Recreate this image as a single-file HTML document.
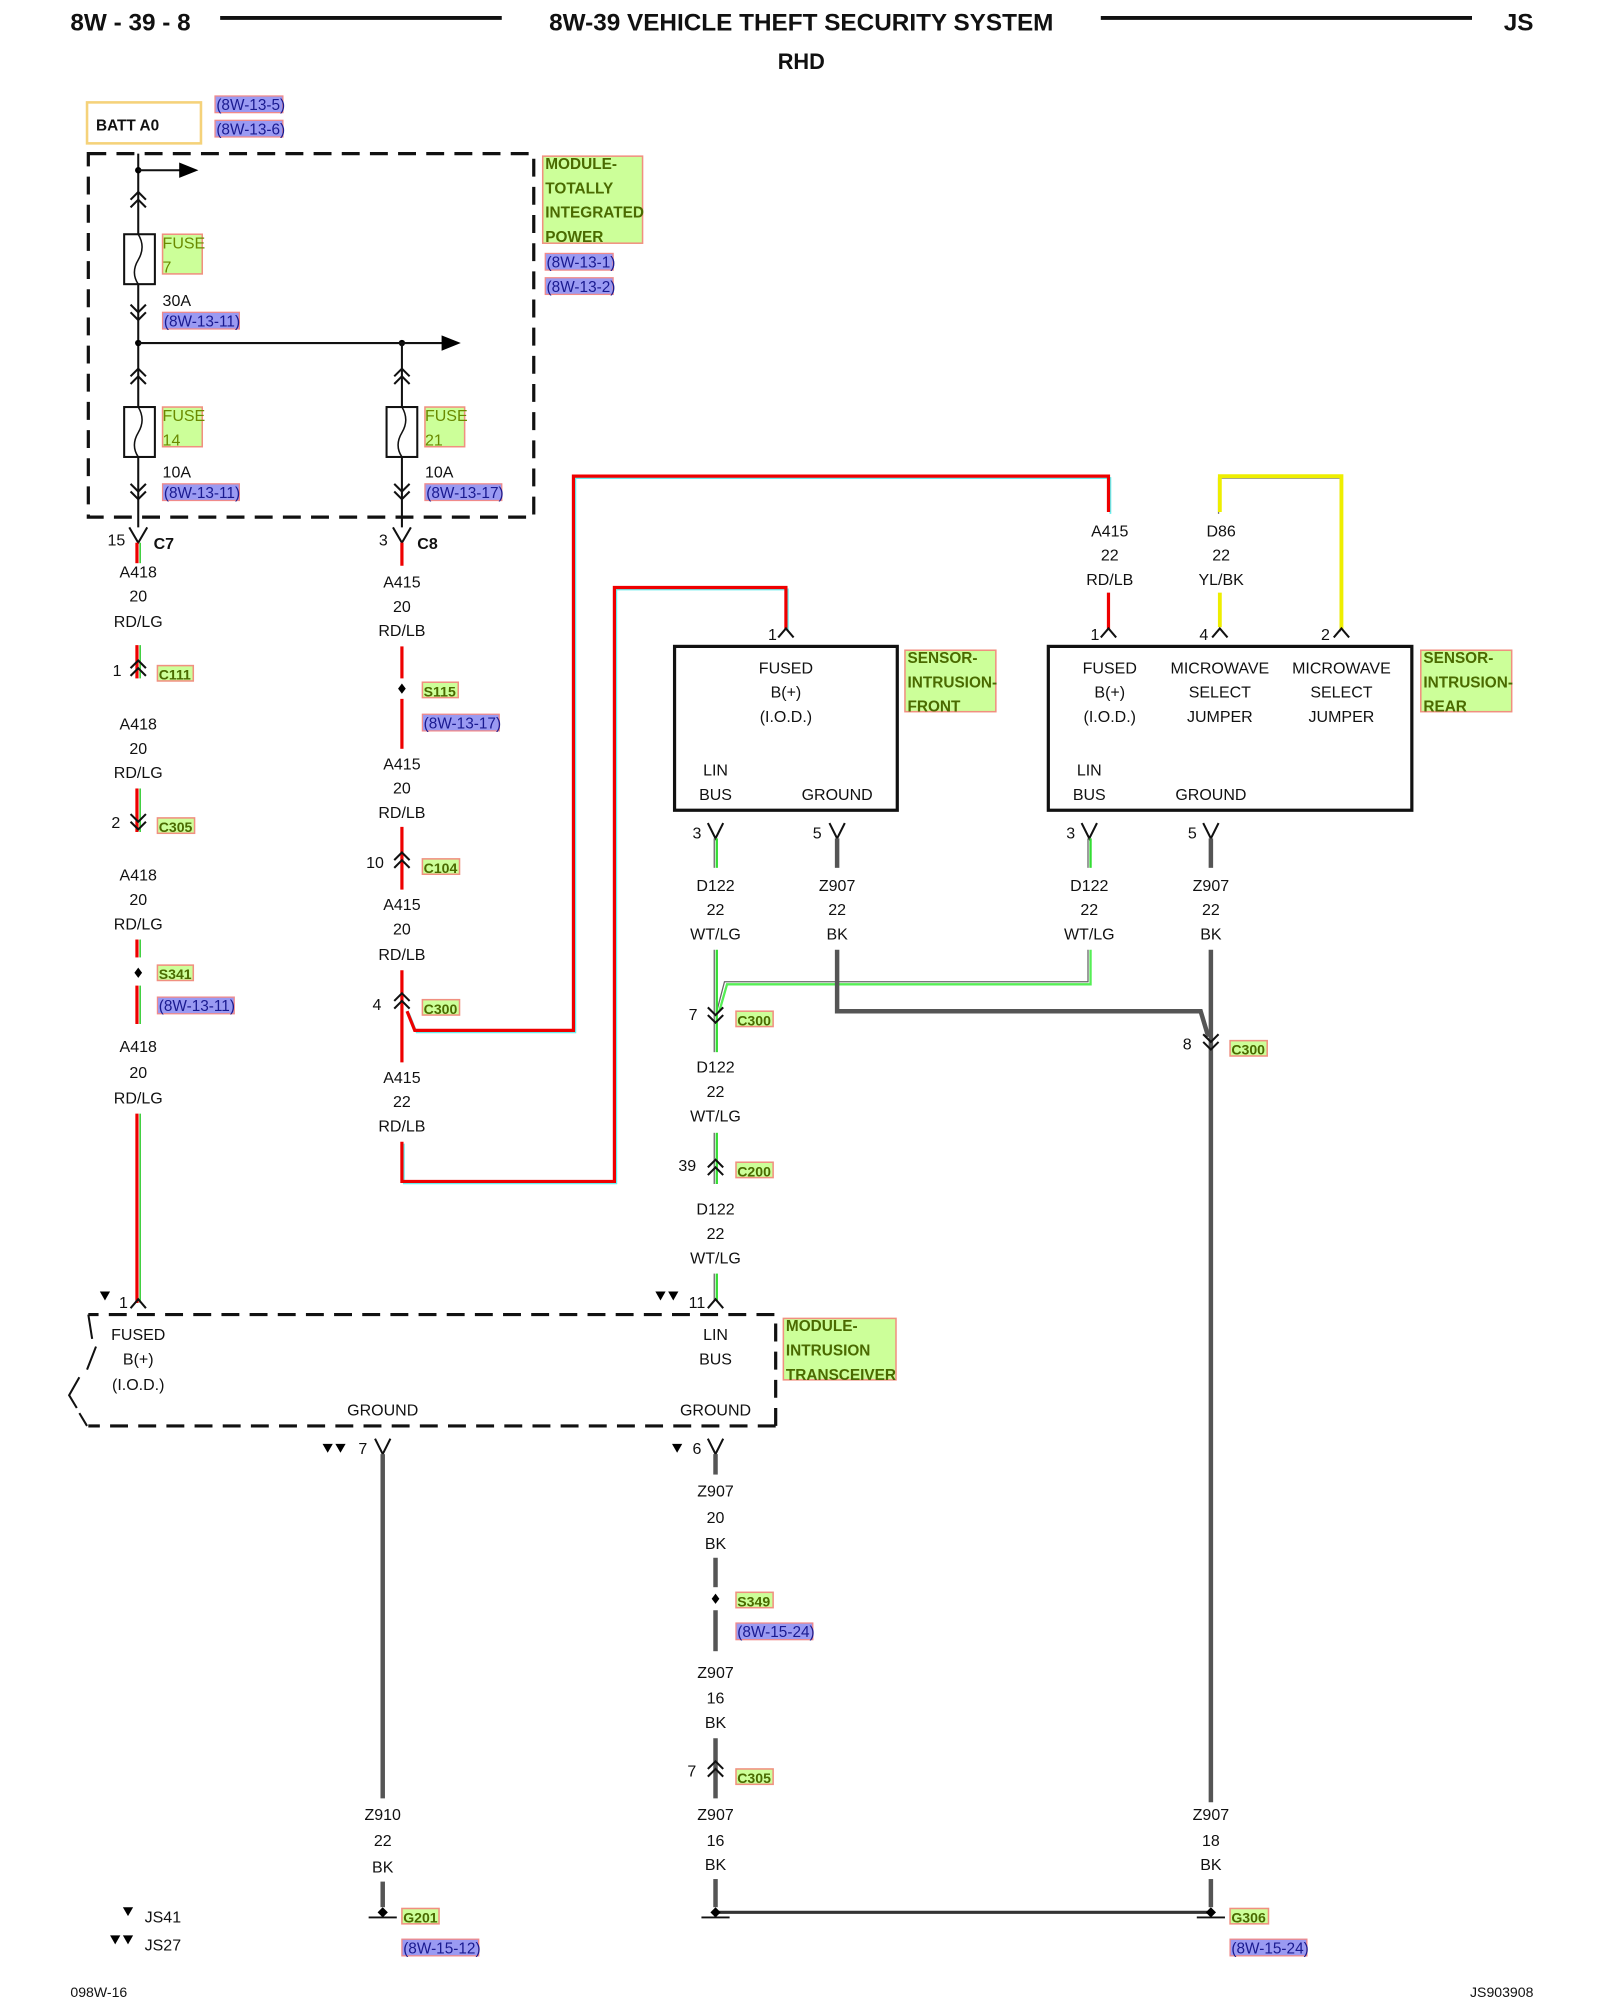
<!DOCTYPE html>
<html><head><meta charset="utf-8"><style>
html,body{margin:0;padding:0;background:#fff}
svg{display:block}
text{font-family:"Liberation Sans",sans-serif;font-size:12.5px;fill:#111}
.c{text-anchor:middle}
.h{font-size:19px;font-weight:bold}
.r{fill:#1a1a90;font-size:12px}
.g{fill:#4a6a00;font-size:12px;font-weight:bold}
.f{fill:#6a8a00;font-size:12.5px}
.rb{fill:#9a9af2;stroke:#f08a8a;stroke-width:1}
.gb{fill:#ccff99;stroke:#f09080;stroke-width:1.2}
.w{fill:none;stroke:#111;stroke-width:1.6}
.bk{fill:none;stroke:#555;stroke-width:3.5}
</style></head><body>
<svg width="1600" height="2000" viewBox="0 0 1250 1562.5" xmlns="http://www.w3.org/2000/svg">
<!-- header -->
<text x="55" y="24" class="h">8W - 39 - 8</text>
<line x1="172" y1="14" x2="392" y2="14" stroke="#111" stroke-width="3"/>
<text x="626" y="24" class="h c">8W-39 VEHICLE THEFT SECURITY SYSTEM</text>
<line x1="860" y1="14" x2="1150" y2="14" stroke="#111" stroke-width="3"/>
<text x="1198" y="24" class="h" text-anchor="end">JS</text>
<text x="626" y="54" class="h c" style="font-size:17px">RHD</text>

<!-- BATT -->
<rect x="68" y="80" width="89" height="32" fill="#fff" stroke="#f5d27a" stroke-width="2"/>
<text x="75" y="102" style="font-weight:bold;font-size:12px">BATT A0</text>
<rect x="168" y="75" width="53" height="13" class="rb"/><text x="169" y="86" class="r">(8W-13-5)</text>
<rect x="168" y="94" width="53" height="13" class="rb"/><text x="169" y="105" class="r">(8W-13-6)</text>

<!-- TIPM -->
<rect x="69" y="120" width="348" height="284" fill="none" stroke="#111" stroke-width="2.5" stroke-dasharray="14,8"/>
<rect x="424" y="122" width="78" height="68" class="gb"/>
<text x="426" y="132" class="g">MODULE-</text><text x="426" y="151" class="g">TOTALLY</text><text x="426" y="170" class="g">INTEGRATED</text><text x="426" y="189" class="g">POWER</text>
<rect x="426" y="198" width="53" height="13" class="rb"/><text x="427" y="209" class="r">(8W-13-1)</text>
<rect x="426" y="217" width="53" height="13" class="rb"/><text x="427" y="228" class="r">(8W-13-2)</text>

<line x1="108" y1="120" x2="108" y2="412" class="w"/>
<circle cx="108" cy="133" r="2.5"/><line x1="108" y1="133" x2="142" y2="133" class="w"/><polygon points="140,127 155,133 140,139"/>
<polyline points="102,156 108,150 114,156" class="w"/><polyline points="102,162 108,156 114,162" class="w"/>
<rect x="97" y="183" width="24" height="39" fill="#fff" stroke="#111" stroke-width="1.6"/><path d="M108,183 q6,10 0,20 q-6,10 0,19" class="w" style="stroke-width:1.2"/>
<polyline points="102,238 108,244 114,238" class="w"/><polyline points="102,244 108,250 114,244" class="w"/>
<rect x="127" y="183" width="31" height="31" class="gb"/><text x="127" y="194" class="f">FUSE</text><text x="127" y="213" class="f">7</text>
<text x="127" y="239">30A</text>
<rect x="127" y="244" width="60" height="13" class="rb"/><text x="128" y="255" class="r">(8W-13-11)</text>
<circle cx="108" cy="268" r="2.5"/><circle cx="314" cy="268" r="2.5"/>
<line x1="108" y1="268" x2="347" y2="268" class="w"/><polygon points="345,262 360,268 345,274"/>
<!-- fuse 14 -->
<polyline points="102,294 108,288 114,294" class="w"/><polyline points="102,300 108,294 114,300" class="w"/>
<rect x="97" y="318" width="24" height="39" fill="#fff" stroke="#111" stroke-width="1.6"/><path d="M108,318 q6,10 0,20 q-6,10 0,19" class="w" style="stroke-width:1.2"/>
<polyline points="102,378 108,384 114,378" class="w"/><polyline points="102,384 108,390 114,384" class="w"/>
<rect x="127" y="318" width="31" height="31" class="gb"/><text x="127" y="329" class="f">FUSE</text><text x="127" y="348" class="f">14</text>
<text x="127" y="373">10A</text>
<rect x="127" y="378" width="60" height="13" class="rb"/><text x="128" y="389" class="r">(8W-13-11)</text>
<!-- fuse 21 -->
<line x1="314" y1="268" x2="314" y2="412" class="w"/>
<polyline points="308,294 314,288 320,294" class="w"/><polyline points="308,300 314,294 320,300" class="w"/>
<rect x="302" y="318" width="24" height="39" fill="#fff" stroke="#111" stroke-width="1.6"/><path d="M314,318 q6,10 0,20 q-6,10 0,19" class="w" style="stroke-width:1.2"/>
<polyline points="308,378 314,384 320,378" class="w"/><polyline points="308,384 314,390 320,384" class="w"/>
<rect x="332" y="318" width="31" height="31" class="gb"/><text x="332" y="329" class="f">FUSE</text><text x="332" y="348" class="f">21</text>
<text x="332" y="373">10A</text>
<rect x="332" y="378" width="60" height="13" class="rb"/><text x="333" y="389" class="r">(8W-13-17)</text>

<!-- Red/LG wire A418 at x=108 -->
<g>
<polyline points="101,412 108,424 115,412" class="w"/>
<text x="84" y="426">15</text><text x="120" y="429" style="font-weight:bold">C7</text>
<line x1="107" y1="424" x2="107" y2="440" stroke="#e00" stroke-width="2.5"/><line x1="109.5" y1="424" x2="109.5" y2="440" stroke="#3c3" stroke-width="1.2"/>
<text x="108" y="451" class="c">A418</text><text x="108" y="470" class="c">20</text><text x="108" y="490" class="c">RD/LG</text>
<line x1="107" y1="504" x2="107" y2="530" stroke="#e00" stroke-width="2.5"/><line x1="109.5" y1="504" x2="109.5" y2="530" stroke="#3c3" stroke-width="1.2"/>
<polyline points="102,522 108,516 114,522" class="w"/><polyline points="102,528 108,522 114,528" class="w"/>
<text x="88" y="528">1</text>
<rect x="123" y="520" width="28" height="12" class="gb"/><text x="124" y="531" class="g" style="font-size:11px">C111</text>
<text x="108" y="570" class="c">A418</text><text x="108" y="589" class="c">20</text><text x="108" y="608" class="c">RD/LG</text>
<line x1="107" y1="616" x2="107" y2="650" stroke="#e00" stroke-width="2.5"/><line x1="109.5" y1="616" x2="109.5" y2="650" stroke="#3c3" stroke-width="1.2"/>
<polyline points="102,636 108,642 114,636" class="w"/><polyline points="102,642 108,648 114,642" class="w"/>
<text x="87" y="647">2</text>
<rect x="123" y="639" width="29" height="12" class="gb"/><text x="124" y="650" class="g" style="font-size:11px">C305</text>
<text x="108" y="688" class="c">A418</text><text x="108" y="707" class="c">20</text><text x="108" y="726" class="c">RD/LG</text>
<line x1="107" y1="734" x2="107" y2="748" stroke="#e00" stroke-width="2.5"/><line x1="109.5" y1="734" x2="109.5" y2="748" stroke="#3c3" stroke-width="1.2"/>
<polygon points="108,756 111,760 108,764 105,760"/>
<line x1="107" y1="770" x2="107" y2="800" stroke="#e00" stroke-width="2.5"/><line x1="109.5" y1="770" x2="109.5" y2="800" stroke="#3c3" stroke-width="1.2"/>
<rect x="123" y="754" width="28" height="12" class="gb"/><text x="124" y="765" class="g" style="font-size:11px">S341</text>
<rect x="123" y="779" width="60" height="13" class="rb"/><text x="124" y="790" class="r">(8W-13-11)</text>
<text x="108" y="822" class="c">A418</text><text x="108" y="842" class="c">20</text><text x="108" y="862" class="c">RD/LG</text>
<line x1="107" y1="870" x2="107" y2="1018" stroke="#e00" stroke-width="2.5"/><line x1="109.5" y1="870" x2="109.5" y2="1018" stroke="#3c3" stroke-width="1.2"/>
</g>

<!-- Red/LB wire A415 x=314 -->
<g>
<polyline points="307,412 314,424 321,412" class="w"/>
<text x="296" y="426">3</text><text x="326" y="429" style="font-weight:bold">C8</text>
<line x1="314" y1="424" x2="314" y2="442" stroke="#e00" stroke-width="2.5"/>
<text x="314" y="459" class="c">A415</text><text x="314" y="478" class="c">20</text><text x="314" y="497" class="c">RD/LB</text>
<line x1="314" y1="505" x2="314" y2="530" stroke="#e00" stroke-width="2.5"/>
<polygon points="314,534 317,538 314,542 311,538"/>
<line x1="314" y1="546" x2="314" y2="585" stroke="#e00" stroke-width="2.5"/>
<rect x="330" y="533" width="28" height="12" class="gb"/><text x="331" y="544" class="g" style="font-size:11px">S115</text>
<rect x="330" y="558" width="60" height="13" class="rb"/><text x="331" y="569" class="r">(8W-13-17)</text>
<text x="314" y="601" class="c">A415</text><text x="314" y="620" class="c">20</text><text x="314" y="639" class="c">RD/LB</text>
<line x1="314" y1="646" x2="314" y2="695" stroke="#e00" stroke-width="2.5"/>
<polyline points="308,672 314,666 320,672" class="w"/><polyline points="308,678 314,672 320,678" class="w"/>
<text x="286" y="678">10</text>
<rect x="330" y="671" width="29" height="12" class="gb"/><text x="331" y="682" class="g" style="font-size:11px">C104</text>
<text x="314" y="711" class="c">A415</text><text x="314" y="730" class="c">20</text><text x="314" y="750" class="c">RD/LB</text>
<line x1="314" y1="758" x2="314" y2="830" stroke="#e00" stroke-width="2.5"/>
<polyline points="308,782 314,776 320,782" class="w"/><polyline points="308,788 314,782 320,788" class="w"/>
<text x="291" y="789">4</text>
<rect x="330" y="781" width="29" height="12" class="gb"/><text x="331" y="792" class="g" style="font-size:11px">C300</text>
<text x="314" y="846" class="c">A415</text><text x="314" y="865" class="c">22</text><text x="314" y="884" class="c">RD/LB</text>
<polyline points="314,892 314,923 480,923 480,459 614,459 614,492" fill="none" stroke="#6ee" stroke-width="1.4" transform="translate(1.5,1.5)"/>
<polyline points="314,892 314,923 480,923 480,459 614,459 614,492" fill="none" stroke="#e00" stroke-width="2.5"/>
<polyline points="318,790 324,805 448,805 448,372 866,372 866,400" fill="none" stroke="#6ee" stroke-width="1.4" transform="translate(1.5,1.5)"/>
<polyline points="318,790 324,805 448,805 448,372 866,372 866,400" fill="none" stroke="#e00" stroke-width="2.5"/>
</g>

<!-- rear sensor top wires -->
<text x="867" y="419" class="c">A415</text><text x="867" y="438" class="c">22</text><text x="867" y="457" class="c">RD/LB</text>
<line x1="866" y1="463" x2="866" y2="492" stroke="#e00" stroke-width="2.5"/>
<polyline points="953,400 953,372 1048,372 1048,492" fill="none" stroke="#777" stroke-width="1" transform="translate(-1,1.5)"/>
<polyline points="953,400 953,372 1048,372 1048,492" fill="none" stroke="#ee0" stroke-width="3"/>
<text x="954" y="419" class="c">D86</text><text x="954" y="438" class="c">22</text><text x="954" y="457" class="c">YL/BK</text>
<line x1="953" y1="463" x2="953" y2="490" stroke="#ee0" stroke-width="3"/>
<polyline points="608,498 614,491 620,498" class="w"/><text x="600" y="500">1</text>
<polyline points="860,498 866,491 872,498" class="w"/><text x="852" y="500">1</text>
<polyline points="947,498 953,491 959,498" class="w"/><text x="937" y="500">4</text>
<polyline points="1042,498 1048,491 1054,498" class="w"/><text x="1032" y="500">2</text>

<!-- front sensor -->
<rect x="527" y="505" width="174" height="128" fill="none" stroke="#111" stroke-width="2.5"/>
<text x="614" y="526" class="c">FUSED</text><text x="614" y="545" class="c">B(+)</text><text x="614" y="564" class="c">(I.O.D.)</text>
<text x="559" y="606" class="c">LIN</text><text x="559" y="625" class="c">BUS</text><text x="654" y="625" class="c">GROUND</text>
<rect x="707" y="508" width="71" height="48" class="gb"/>
<text x="709" y="518" class="g">SENSOR-</text><text x="709" y="537" class="g">INTRUSION-</text><text x="709" y="556" class="g">FRONT</text>
<!-- rear sensor -->
<rect x="819" y="505" width="284" height="128" fill="none" stroke="#111" stroke-width="2.5"/>
<text x="867" y="526" class="c">FUSED</text><text x="867" y="545" class="c">B(+)</text><text x="867" y="564" class="c">(I.O.D.)</text>
<text x="953" y="526" class="c">MICROWAVE</text><text x="953" y="545" class="c">SELECT</text><text x="953" y="564" class="c">JUMPER</text>
<text x="1048" y="526" class="c">MICROWAVE</text><text x="1048" y="545" class="c">SELECT</text><text x="1048" y="564" class="c">JUMPER</text>
<text x="851" y="606" class="c">LIN</text><text x="851" y="625" class="c">BUS</text><text x="946" y="625" class="c">GROUND</text>
<rect x="1110" y="508" width="71" height="48" class="gb"/>
<text x="1112" y="518" class="g">SENSOR-</text><text x="1112" y="537" class="g">INTRUSION-</text><text x="1112" y="556" class="g">REAR</text>

<!-- pins below sensors -->
<polyline points="553,643 559,655 565,643" class="w"/><text x="541" y="655">3</text>
<polyline points="648,643 654,655 660,643" class="w"/><text x="635" y="655">5</text>
<polyline points="845,643 851,655 857,643" class="w"/><text x="833" y="655">3</text>
<polyline points="940,643 946,655 952,643" class="w"/><text x="928" y="655">5</text>
<line x1="558" y1="655" x2="558" y2="678" stroke="#666" stroke-width="1"/><line x1="560" y1="655" x2="560" y2="678" stroke="#3d3" stroke-width="1.8"/>
<line x1="850" y1="655" x2="850" y2="678" stroke="#666" stroke-width="1"/><line x1="852" y1="655" x2="852" y2="678" stroke="#3d3" stroke-width="1.8"/>
<line x1="654" y1="655" x2="654" y2="678" class="bk"/><line x1="946" y1="655" x2="946" y2="678" class="bk"/>
<text x="559" y="696" class="c">D122</text><text x="559" y="715" class="c">22</text><text x="559" y="734" class="c">WT/LG</text>
<text x="654" y="696" class="c">Z907</text><text x="654" y="715" class="c">22</text><text x="654" y="734" class="c">BK</text>
<text x="851" y="696" class="c">D122</text><text x="851" y="715" class="c">22</text><text x="851" y="734" class="c">WT/LG</text>
<text x="946" y="696" class="c">Z907</text><text x="946" y="715" class="c">22</text><text x="946" y="734" class="c">BK</text>
<!-- green bus -->
<polyline points="850,742 850,767 566,767 560,790" fill="none" stroke="#666" stroke-width="1"/>
<polyline points="852,742 852,769 568,769 562,790" fill="none" stroke="#5e5" stroke-width="1.8"/>
<line x1="558" y1="742" x2="558" y2="800" stroke="#666" stroke-width="1"/><line x1="560" y1="742" x2="560" y2="800" stroke="#3d3" stroke-width="1.8"/>
<polyline points="553,787 559,793 565,787" class="w"/><polyline points="553,793 559,799 565,793" class="w"/>
<text x="538" y="797">7</text>
<rect x="575" y="790" width="29" height="12" class="gb"/><text x="576" y="801" class="g" style="font-size:11px">C300</text>
<!-- ground bus -->
<polyline points="654,742 654,790 938,790 944,810" class="bk"/>
<line x1="946" y1="742" x2="946" y2="1408" class="bk"/>
<polyline points="940,808 946,814 952,808" class="w"/><polyline points="940,814 946,820 952,814" class="w"/>
<text x="924" y="820">8</text>
<rect x="961" y="813" width="29" height="12" class="gb"/><text x="962" y="824" class="g" style="font-size:11px">C300</text>

<!-- D122 down to transceiver -->
<line x1="558" y1="800" x2="558" y2="822" stroke="#666" stroke-width="1"/><line x1="560" y1="800" x2="560" y2="822" stroke="#3d3" stroke-width="1.8"/>
<text x="559" y="838" class="c">D122</text><text x="559" y="857" class="c">22</text><text x="559" y="876" class="c">WT/LG</text>
<line x1="558" y1="885" x2="558" y2="925" stroke="#666" stroke-width="1"/><line x1="560" y1="885" x2="560" y2="925" stroke="#3d3" stroke-width="1.8"/>
<polyline points="553,912 559,906 565,912" class="w"/><polyline points="553,918 559,912 565,918" class="w"/>
<text x="530" y="915">39</text>
<rect x="575" y="908" width="29" height="12" class="gb"/><text x="576" y="919" class="g" style="font-size:11px">C200</text>
<text x="559" y="949" class="c">D122</text><text x="559" y="968" class="c">22</text><text x="559" y="987" class="c">WT/LG</text>
<line x1="558" y1="995" x2="558" y2="1016" stroke="#666" stroke-width="1"/><line x1="560" y1="995" x2="560" y2="1016" stroke="#3d3" stroke-width="1.8"/>

<!-- transceiver -->
<polyline points="102,1022 108,1015 114,1022" class="w"/><text x="93" y="1022">1</text>
<polygon points="78,1009 86,1009 82,1016"/>
<polyline points="553,1022 559,1015 565,1022" class="w"/><text x="538" y="1022">11</text>
<polygon points="512,1009 520,1009 516,1016"/><polygon points="522,1009 530,1009 526,1016"/>
<path d="M606,1114 L69,1114 M606,1114 L606,1027 L69,1027" fill="none" stroke="#111" stroke-width="2.5" stroke-dasharray="14,8"/>
<polyline points="69,1027 72,1046" fill="none" stroke="#111" stroke-width="1.6"/>
<polyline points="75,1052 68,1070" fill="none" stroke="#111" stroke-width="1.6"/>
<polyline points="62,1076 54,1090 60,1100" fill="none" stroke="#111" stroke-width="1.6"/>
<polyline points="62,1104 68,1114" fill="none" stroke="#111" stroke-width="1.6"/>
<text x="108" y="1047" class="c">FUSED</text><text x="108" y="1066" class="c">B(+)</text><text x="108" y="1086" class="c">(I.O.D.)</text>
<text x="559" y="1047" class="c">LIN</text><text x="559" y="1066" class="c">BUS</text>
<text x="299" y="1106" class="c">GROUND</text><text x="559" y="1106" class="c">GROUND</text>
<rect x="612" y="1030" width="88" height="48" class="gb"/>
<text x="614" y="1040" class="g">MODULE-</text><text x="614" y="1059" class="g">INTRUSION</text><text x="614" y="1078" class="g">TRANSCEIVER</text>

<!-- ground 7 -->
<polyline points="293,1124 299,1136 305,1124" class="w"/><text x="280" y="1136">7</text>
<polygon points="252,1128 260,1128 256,1135"/><polygon points="262,1128 270,1128 266,1135"/>
<line x1="299" y1="1136" x2="299" y2="1405" class="bk"/>
<text x="299" y="1422" class="c">Z910</text><text x="299" y="1442" class="c">22</text><text x="299" y="1463" class="c">BK</text>
<line x1="299" y1="1470" x2="299" y2="1490" class="bk"/>
<polygon points="299,1490 303,1494 299,1498 295,1494"/><line x1="288" y1="1498" x2="310" y2="1498" stroke="#111" stroke-width="1.5"/>
<rect x="314" y="1491" width="29" height="12" class="gb"/><text x="315" y="1502" class="g" style="font-size:11px">G201</text>
<rect x="314" y="1515" width="60" height="13" class="rb"/><text x="315" y="1526" class="r">(8W-15-12)</text>

<!-- ground 6 -->
<polyline points="553,1124 559,1136 565,1124" class="w"/><text x="541" y="1136">6</text>
<polygon points="525,1128 533,1128 529,1135"/>
<line x1="559" y1="1136" x2="559" y2="1152" class="bk"/>
<text x="559" y="1169" class="c">Z907</text><text x="559" y="1190" class="c">20</text><text x="559" y="1210" class="c">BK</text>
<line x1="559" y1="1217" x2="559" y2="1240" class="bk"/>
<polygon points="559,1245 562,1249 559,1253 556,1249"/>
<line x1="559" y1="1258" x2="559" y2="1290" class="bk"/>
<rect x="575" y="1244" width="29" height="12" class="gb"/><text x="576" y="1255" class="g" style="font-size:11px">S349</text>
<rect x="575" y="1268" width="60" height="13" class="rb"/><text x="576" y="1279" class="r">(8W-15-24)</text>
<text x="559" y="1311" class="c">Z907</text><text x="559" y="1331" class="c">16</text><text x="559" y="1350" class="c">BK</text>
<line x1="559" y1="1358" x2="559" y2="1405" class="bk"/>
<polyline points="553,1382 559,1376 565,1382" class="w"/><polyline points="553,1388 559,1382 565,1388" class="w"/>
<text x="537" y="1388">7</text>
<rect x="575" y="1382" width="29" height="12" class="gb"/><text x="576" y="1393" class="g" style="font-size:11px">C305</text>
<text x="559" y="1422" class="c">Z907</text><text x="559" y="1442" class="c">16</text><text x="559" y="1461" class="c">BK</text>
<line x1="559" y1="1468" x2="559" y2="1490" class="bk"/>
<text x="946" y="1422" class="c">Z907</text><text x="946" y="1442" class="c">18</text><text x="946" y="1461" class="c">BK</text>
<line x1="946" y1="1468" x2="946" y2="1490" class="bk"/>
<line x1="559" y1="1494" x2="946" y2="1494" stroke="#333" stroke-width="2.5"/>
<polygon points="559,1490 563,1494 559,1498 555,1494"/><line x1="548" y1="1498" x2="570" y2="1498" stroke="#111" stroke-width="1.5"/>
<polygon points="946,1490 950,1494 946,1498 942,1494"/><line x1="935" y1="1498" x2="957" y2="1498" stroke="#111" stroke-width="1.5"/>
<rect x="961" y="1491" width="30" height="12" class="gb"/><text x="962" y="1502" class="g" style="font-size:11px">G306</text>
<rect x="961" y="1515" width="60" height="13" class="rb"/><text x="962" y="1526" class="r">(8W-15-24)</text>

<!-- legend -->
<polygon points="96,1490 104,1490 100,1497"/><text x="113" y="1502">JS41</text>
<polygon points="86,1512 94,1512 90,1519"/><polygon points="96,1512 104,1512 100,1519"/><text x="113" y="1524">JS27</text>
<text x="55" y="1560" style="font-size:11px">098W-16</text>
<text x="1198" y="1560" style="font-size:11px" text-anchor="end">JS903908</text>
</svg>
</body></html>
